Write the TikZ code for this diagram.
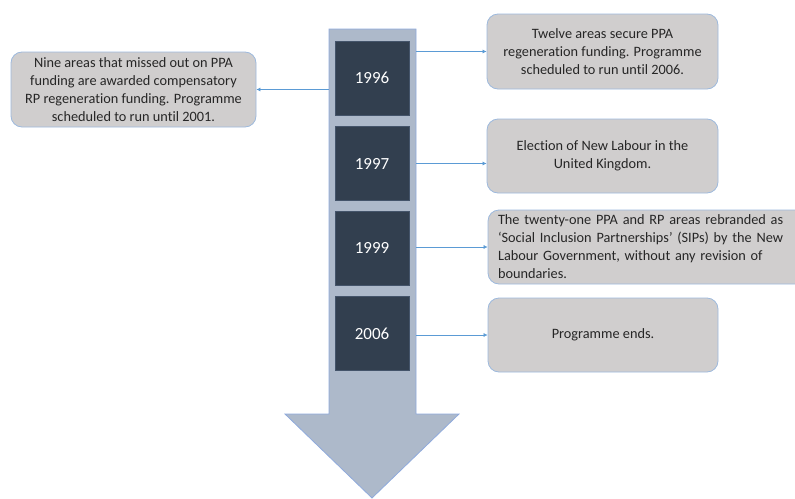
\documentclass[tikz,border=0pt]{standalone}
\usepackage{fontspec}
\setmainfont[Ligatures=NoCommon]{Carlito}
\usetikzlibrary{arrows.meta}
\definecolor{boxfill}{HTML}{D0CECE}
\definecolor{boxline}{HTML}{9DB9DD}
\definecolor{yearfill}{HTML}{323F4F}
\definecolor{yearline}{HTML}{44546A}
\definecolor{shaftfill}{HTML}{ADB9CA}
\definecolor{shaftline}{HTML}{8FAADC}
\definecolor{conncol}{HTML}{5B9BD5}
\tikzset{
  evbox/.style={draw=boxline, line width=0.8pt, fill=boxfill, rounded corners=11pt,
    font=\fontsize{14.3}{18}\selectfont, text=black!85, align=center, inner sep=0pt},
  yearbox/.style={draw=yearline, line width=0.8pt, fill=yearfill, minimum width=74pt, minimum height=74pt,
    font=\fontsize{17}{20}\selectfont, text=white, inner sep=0pt},
  conn/.style={draw=conncol, line width=0.6pt, -{Latex[length=4pt,width=4pt]}}
}
\begin{document}
\begin{tikzpicture}[x=1pt,y=-1pt]
\useasboundingbox (0,0) rectangle (795,498);
\clip (0,0) rectangle (795,498);
% timeline arrow
\fill[shaftfill, draw=shaftline, line width=0.8pt] (329,29) -- (416,29) -- (416,414) -- (459,414) -- (372,498) -- (285,414) -- (329,414) -- cycle;
\node[minimum width=87pt, minimum height=385pt, inner sep=0pt] (shaft) at (372.5,221.5) {};
% years
\node[yearbox] (y1996) at (372,78) {1996};
\node[yearbox] (y1997) at (372,163.5) {1997};
\node[yearbox] (y1999) at (372,248) {1999};
\node[yearbox] (y2006) at (372,333.5) {2006};
% event boxes
\node[evbox, minimum width=245pt, minimum height=75pt] (left) at (133.5,89.5)
  {Nine areas that missed out on PPA\\funding are awarded compensatory\\RP regeneration funding. Programme\\scheduled to run until 2001.};
\node[evbox, minimum width=231pt, minimum height=75pt] (e1996) at (602.5,51.5)
  {Twelve areas secure PPA\\regeneration funding. Programme\\scheduled to run until 2006.};
\node[evbox, minimum width=231pt, minimum height=74pt] (e1997) at (602.5,156)
  {Election of New Labour in the\\United Kingdom.};
\node[evbox, minimum width=330pt, minimum height=74pt, text width=310pt, align=left] (e1999) at (653,247)
  {The twenty-one PPA and RP areas rebranded as\\‘Social Inclusion Partnerships’ (SIPs) by the New\\Labour Government, without any revision of\\boundaries.};
\node[evbox, minimum width=230pt, minimum height=74pt] (e2006) at (603,335)
  {Programme ends.};
% connectors
\draw[conn] (shaft.west |- left.east) -- (left.east);
\draw[conn] (shaft.east |- e1996.west) -- (e1996.west);
\draw[conn] (shaft.east |- y1997.east) -- (e1997.west |- y1997.east);
\draw[conn] (shaft.east |- e1999.west) -- (e1999.west);
\draw[conn] (shaft.east |- e2006.west) -- (e2006.west);
\end{tikzpicture}
\end{document}
